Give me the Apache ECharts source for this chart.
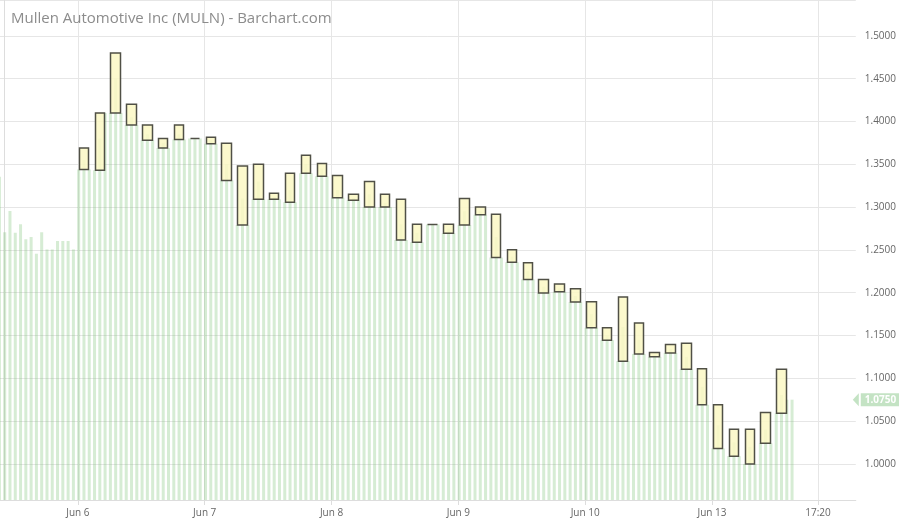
<!DOCTYPE html>
<html>
<head>
<meta charset="utf-8">
<title>MULN</title>
<script src="https://cdn.jsdelivr.net/npm/echarts@6/dist/echarts.min.js"></script>
<style>
  html, body { margin: 0; padding: 0; background: #fff; }
  #chart { width: 899px; height: 521px; }
</style>
</head>
<body>
<div id="chart"></div>
<script>
// 价格区间: candles every 3 slots, starting at slot 15
var firstCandleSlot = 15;
var candleStep = 3;

// [open, close]
var candles = [
  [1.344, 1.369], [1.343, 1.410], [1.410, 1.480], [1.420, 1.396], [1.396, 1.378],
  [1.380, 1.369], [1.379, 1.396], [1.380, 1.380], [1.3815, 1.374], [1.3745, 1.331],
  [1.348, 1.279], [1.309, 1.350], [1.316, 1.309], [1.3055, 1.3395], [1.3395, 1.3605],
  [1.351, 1.336], [1.337, 1.311], [1.315, 1.308], [1.300, 1.330], [1.315, 1.300],
  [1.309, 1.2615], [1.259, 1.280], [1.2795, 1.2795], [1.280, 1.2695], [1.279, 1.310],
  [1.300, 1.291], [1.2915, 1.241], [1.250, 1.2355], [1.235, 1.2155], [1.2155, 1.1995],
  [1.210, 1.201], [1.2045, 1.189], [1.1895, 1.159], [1.159, 1.1445], [1.120, 1.195],
  [1.1645, 1.1285], [1.130, 1.125], [1.1295, 1.1395], [1.141, 1.1105], [1.111, 1.069],
  [1.069, 1.018], [1.0405, 1.009], [1.0405, 1.000], [1.024, 1.060], [1.059, 1.1105]
];

// green background bars, one per slot, slot -1 first
var firstBarSlot = -1;
var closes = [
  1.3355, 1.2705, 1.2955, 1.270, 1.280, 1.2625, 1.265, 1.2455, 1.2705, 1.2505,
  1.2505, 1.2605, 1.2605, 1.2605, 1.2505,
  1.344, 1.355, 1.344, 1.343, 1.380, 1.410, 1.410, 1.450, 1.410,
  1.396, 1.405, 1.396, 1.378, 1.385, 1.378, 1.369, 1.375, 1.369,
  1.379, 1.385, 1.379, 1.380, 1.380, 1.380, 1.374, 1.378, 1.374,
  1.331, 1.350, 1.331, 1.279, 1.310, 1.279, 1.309, 1.330, 1.309,
  1.309, 1.312, 1.309, 1.3055, 1.320, 1.3055, 1.3395, 1.350, 1.3395,
  1.336, 1.345, 1.336, 1.311, 1.320, 1.311, 1.308, 1.311, 1.308,
  1.300, 1.315, 1.300, 1.300, 1.305, 1.300, 1.2615, 1.280, 1.2615,
  1.259, 1.270, 1.259, 1.2795, 1.2795, 1.2795, 1.2695, 1.275, 1.2695,
  1.279, 1.295, 1.279, 1.291, 1.295, 1.291, 1.241, 1.265, 1.241,
  1.2355, 1.242, 1.2355, 1.2155, 1.225, 1.2155, 1.1995, 1.207, 1.1995,
  1.201, 1.205, 1.201, 1.189, 1.196, 1.189, 1.159, 1.175, 1.159,
  1.1445, 1.150, 1.1445, 1.120, 1.160, 1.120, 1.1285, 1.145, 1.1285,
  1.125, 1.127, 1.125, 1.1295, 1.134, 1.1295, 1.1105, 1.125, 1.1105,
  1.069, 1.090, 1.069, 1.018, 1.045, 1.018, 1.009, 1.025, 1.009,
  1.000, 1.020, 1.000, 1.024, 1.040, 1.024, 1.059, 1.0805, 1.075,
  1.075
];

var lastPrice = 1.075;

// x axis labels (slot positions)
var xTickSlots = [13.85, 37.85, 61.85, 85.85, 109.85, 133.85, 153.9];
var xTickLabels = ["Jun 6", "Jun 7", "Jun 8", "Jun 9", "Jun 10", "Jun 13", "17:20"];

var chart = echarts.init(document.getElementById("chart"));

var barData = [];
for (var i = 0; i < closes.length; i++) {
  barData.push([firstBarSlot + i, closes[i]]);
}
var candleData = [];
for (var k = 0; k < candles.length; k++) {
  var o = candles[k][0], c = candles[k][1];
  candleData.push([firstCandleSlot + k * candleStep, o, c, Math.min(o, c), Math.max(o, c)]);
}

var option = {
  animation: false,
  textStyle: { fontFamily: "Open Sans" },
  title: {
    text: "Mullen Automotive Inc (MULN) - Barchart.com",
    left: 6,
    top: 6,
    textStyle: { fontSize: 15, fontWeight: "normal", color: "#8c8c8c", fontFamily: "Open Sans" },
  },
  grid: { left: 0, right: 42, top: 0, bottom: 21 },
  xAxis: {
    type: "value",
    min: -0.888,
    max: 161.06,
    axisLine: { show: true, lineStyle: { color: "#dddddd" } },
    axisTick: { show: true, length: 5, lineStyle: { color: "#dddddd" }, customValues: xTickSlots },
    axisLabel: {
      customValues: xTickSlots,
      color: "#666",
      fontSize: 10,
      margin: 8,
      formatter: function (v) {
        for (var j = 0; j < xTickSlots.length; j++) {
          if (Math.abs(xTickSlots[j] - v) < 0.01) return xTickLabels[j];
        }
        return "";
      },
    },
    splitLine: { show: true, lineStyle: { color: "#e6e6e6", width: 1 } },
  },
  yAxis: {
    type: "value",
    position: "right",
    min: 0.9578,
    max: 1.5419,
    minInterval: 0.05,
    maxInterval: 0.05,
    splitNumber: 11,
    axisLine: { show: true, lineStyle: { color: "#dddddd" } },
    axisTick: { show: false },
    axisLabel: {
      color: "#666",
      fontSize: 10,
      margin: 9,
      showMinLabel: false,
      showMaxLabel: false,
      formatter: function (v) {
        return v.toFixed(4);
      },
    },
    splitLine: { show: true, lineStyle: { color: "#e6e6e6", width: 1 } },
  },
  series: [
    {
      name: "close",
      type: "bar",
      data: barData,
      barWidth: 3,
      itemStyle: { color: "rgba(118, 192, 112, 0.3)" },
      markLine: {
        silent: true,
        precision: 4,
        symbol: ["none", "path://M0,5L6,0L6,10Z"],
        symbolSize: [6, 13],
        symbolRotate: 0,
        symbolOffset: [3, 0],
        lineStyle: { color: "#c4e3c4", width: 0, type: "solid" },
        label: {
          position: "end",
          distance: 5,
          color: "#fff",
          fontSize: 10,
          fontWeight: "bold",
          backgroundColor: "#c4e3c4",
          padding: [1, 4, 1, 4],
          lineHeight: 11,
          formatter: function (p) {
            return Number(p.value).toFixed(4);
          },
        },
        data: [{ yAxis: lastPrice }],
      },
    },
    {
      name: "MULN",
      type: "candlestick",
      data: candleData,
      encode: { x: 0, y: [1, 2, 3, 4] },
      barWidth: 10,
      itemStyle: {
        color: "rgba(251, 248, 196, 0.85)",
        color0: "rgba(251, 248, 196, 0.85)",
        borderColor: "#505046",
        borderColor0: "#505046",
        borderWidth: 1.5,
      },
    },
  ],
};

chart.setOption(option);
</script>
</body>
</html>
